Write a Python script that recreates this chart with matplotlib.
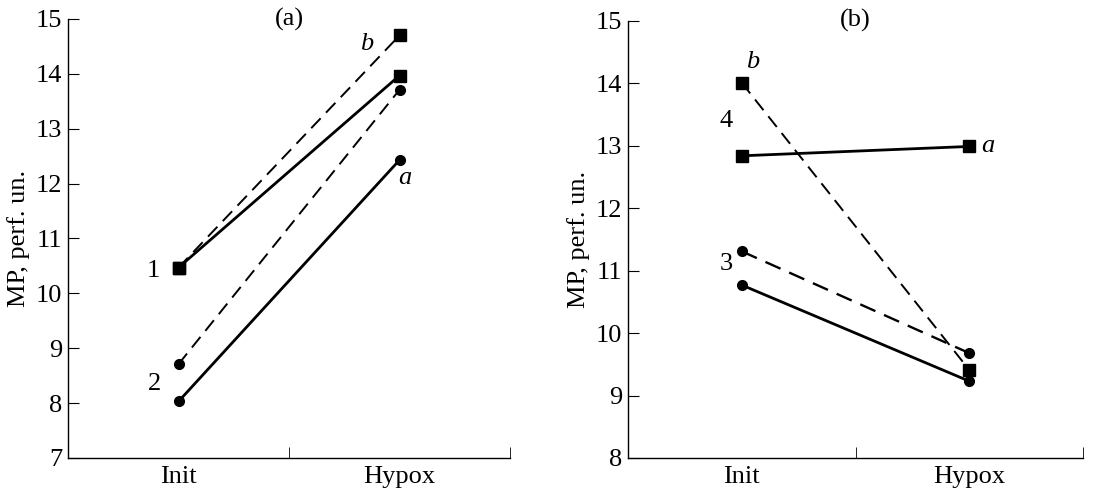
import matplotlib
matplotlib.use("Agg")
import matplotlib.pyplot as plt

plt.rcParams['font.family'] = ['Liberation Serif', 'DejaVu Serif']

stages = ["Init", "Hypox"]

# panel (a)
a_sq_solid = [10.47, 13.97]
a_sq_dash = [10.47, 14.70]
a_ci_solid = [8.03, 12.43]
a_ci_dash = [8.71, 13.71]

# panel (b)
b_sq_solid = [12.84, 12.99]
b_sq_dash = [14.01, 9.41]
b_ci_solid = [10.77, 9.23]
b_ci_dash = [11.31, 9.68]

xpos = [1, 3]
dash = (0, (7, 4))
FS = 19

fig = plt.figure(figsize=(11.2, 4.93), dpi=100)
ax1 = fig.add_axes([0.0607, 0.071, 0.3947, 0.8905])
ax2 = fig.add_axes([0.5607, 0.071, 0.4063, 0.8865])


def style_axis(ax, ylo, yhi):
    ax.set_xlim(0, 4)
    ax.set_ylim(ylo, yhi)
    ax.spines['top'].set_visible(False)
    ax.spines['right'].set_visible(False)
    ax.spines['left'].set_linewidth(1.0)
    ax.spines['bottom'].set_linewidth(1.0)
    ax.set_yticks(range(ylo, yhi + 1))
    ax.tick_params(axis='y', direction='in', length=8, labelsize=FS, pad=4)
    ax.set_xticks(xpos)
    ax.set_xticklabels(stages)
    ax.tick_params(axis='x', which='major', length=0, labelsize=FS, pad=6)
    ax.set_xticks([2, 4], minor=True)
    ax.tick_params(axis='x', which='minor', direction='in', length=8)
    ax.set_ylabel("MP, perf. un.", fontsize=FS, labelpad=4)


# (a)
ax1.plot(xpos, a_sq_dash, color='black', lw=1.4, linestyle=dash, marker='s', ms=8)
ax1.plot(xpos, a_sq_solid, color='black', lw=2.0, marker='s', ms=9)
ax1.plot(xpos, a_ci_dash, color='black', lw=1.4, linestyle=dash, marker='o', ms=7)
ax1.plot(xpos, a_ci_solid, color='black', lw=2.0, marker='o', ms=7)
style_axis(ax1, 7, 15)
ax1.text(2, 15.0, "(a)", ha='center', va='center', fontsize=FS)
ax1.text(2.7, 14.55, "b", style='italic', ha='center', va='center', fontsize=FS)
ax1.text(3.05, 12.1, "a", style='italic', ha='center', va='center', fontsize=FS)
ax1.text(0.77, 10.4, "1", ha='center', va='center', fontsize=FS)
ax1.text(0.78, 8.35, "2", ha='center', va='center', fontsize=FS)

# (b)
ax2.plot(xpos, b_sq_dash, color='black', lw=1.4, linestyle=dash, marker='s', ms=8)
ax2.plot(xpos, b_sq_solid, color='black', lw=2.0, marker='s', ms=8)
ax2.plot(xpos, b_ci_dash, color='black', lw=1.7, linestyle=dash, marker='o', ms=7)
ax2.plot(xpos, b_ci_solid, color='black', lw=2.0, marker='o', ms=7)
style_axis(ax2, 8, 15)
ax2.text(2, 15.0, "(b)", ha='center', va='center', fontsize=FS)
ax2.text(1.1, 14.35, "b", style='italic', ha='center', va='center', fontsize=FS)
ax2.text(0.86, 13.4, "4", ha='center', va='center', fontsize=FS)
ax2.text(3.16, 13.0, "a", style='italic', ha='center', va='center', fontsize=FS)
ax2.text(0.86, 11.1, "3", ha='center', va='center', fontsize=FS)

fig.savefig("out.png", dpi=100)
